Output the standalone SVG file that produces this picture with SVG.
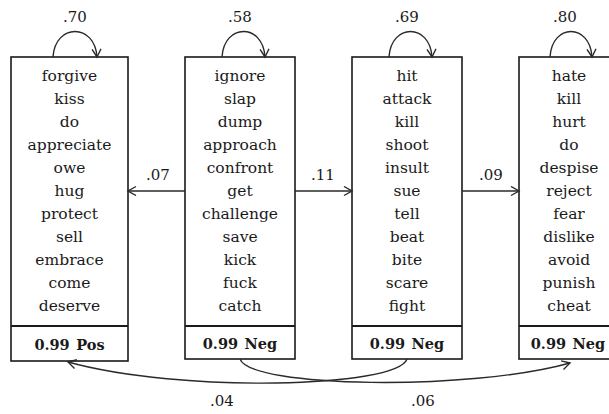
<svg xmlns="http://www.w3.org/2000/svg" width="609" height="414" viewBox="0 0 609 414">
<style>
.box{fill:#fff;stroke:#1a1a1a;stroke-width:1.6}
.div{stroke:#1a1a1a;stroke-width:2.2}
.w{font-family:"DejaVu Serif","Liberation Serif",serif;font-size:15.5px;fill:#1a1a1a;text-anchor:middle}
.b{font-family:"DejaVu Serif","Liberation Serif",serif;font-size:14.5px;font-weight:bold;fill:#1a1a1a;text-anchor:middle;word-spacing:1.5px}
.lab{font-family:"DejaVu Serif","Liberation Serif",serif;font-size:15px;fill:#1a1a1a;text-anchor:middle}
.c{fill:none;stroke:#2a2a2a;stroke-width:1.4;marker-end:url(#ah)}
</style>
<defs>
<marker id="ah" markerUnits="userSpaceOnUse" markerWidth="12" markerHeight="12" refX="9" refY="5" orient="auto">
<path d="M1,0.5 L9,5 L1,9.5" fill="none" stroke="#2a2a2a" stroke-width="1.4"/>
</marker>
</defs>
<g id="node-pos">
<rect class="box" x="11" y="57" width="117" height="304"/>
<line class="div" x1="11" y1="326" x2="128" y2="326"/>
<text class="w" x="69.5" y="81">forgive</text>
<text class="w" x="69.5" y="104">kiss</text>
<text class="w" x="69.5" y="127">do</text>
<text class="w" x="69.5" y="150">appreciate</text>
<text class="w" x="69.5" y="173">owe</text>
<text class="w" x="69.5" y="196">hug</text>
<text class="w" x="69.5" y="219">protect</text>
<text class="w" x="69.5" y="242">sell</text>
<text class="w" x="69.5" y="265">embrace</text>
<text class="w" x="69.5" y="288">come</text>
<text class="w" x="69.5" y="311">deserve</text>
<text class="b" x="69.5" y="350">0.99 Pos</text>
</g>
<g id="node-neg1">
<rect class="box" x="185" y="57" width="110" height="302"/>
<line class="div" x1="185" y1="326" x2="295" y2="326"/>
<text class="w" x="240" y="81">ignore</text>
<text class="w" x="240" y="104">slap</text>
<text class="w" x="240" y="127">dump</text>
<text class="w" x="240" y="150">approach</text>
<text class="w" x="240" y="173">confront</text>
<text class="w" x="240" y="196">get</text>
<text class="w" x="240" y="219">challenge</text>
<text class="w" x="240" y="242">save</text>
<text class="w" x="240" y="265">kick</text>
<text class="w" x="240" y="288">fuck</text>
<text class="w" x="240" y="311">catch</text>
<text class="b" x="240" y="349">0.99 Neg</text>
</g>
<g id="node-neg2">
<rect class="box" x="352" y="57" width="110" height="302"/>
<line class="div" x1="352" y1="326" x2="462" y2="326"/>
<text class="w" x="407" y="81">hit</text>
<text class="w" x="407" y="104">attack</text>
<text class="w" x="407" y="127">kill</text>
<text class="w" x="407" y="150">shoot</text>
<text class="w" x="407" y="173">insult</text>
<text class="w" x="407" y="196">sue</text>
<text class="w" x="407" y="219">tell</text>
<text class="w" x="407" y="242">beat</text>
<text class="w" x="407" y="265">bite</text>
<text class="w" x="407" y="288">scare</text>
<text class="w" x="407" y="311">fight</text>
<text class="b" x="407" y="349">0.99 Neg</text>
</g>
<g id="node-neg3">
<rect class="box" x="519" y="57" width="110" height="302"/>
<line class="div" x1="519" y1="326" x2="629" y2="326"/>
<text class="w" x="569" y="81">hate</text>
<text class="w" x="569" y="104">kill</text>
<text class="w" x="569" y="127">hurt</text>
<text class="w" x="569" y="150">do</text>
<text class="w" x="569" y="173">despise</text>
<text class="w" x="569" y="196">reject</text>
<text class="w" x="569" y="219">fear</text>
<text class="w" x="569" y="242">dislike</text>
<text class="w" x="569" y="265">avoid</text>
<text class="w" x="569" y="288">punish</text>
<text class="w" x="569" y="311">cheat</text>
<text class="b" x="568" y="349">0.99 Neg</text>
</g>
<g id="connectors">
<path class="c" d="M53,57 C55,23 95,23 97,57"/>
<path class="c" d="M222,57 C224,23 263,23 265,57"/>
<path class="c" d="M389,57 C391,23 430,23 432,57"/>
<path class="c" d="M550,57 C552,23 590,23 592,57"/>
<text class="lab" x="75" y="22">.70</text>
<text class="lab" x="240" y="22">.58</text>
<text class="lab" x="407" y="22">.69</text>
<text class="lab" x="565" y="22">.80</text>
<path class="c" d="M185,191 L128,191"/>
<path class="c" d="M295,191 L352,191"/>
<path class="c" d="M462,191 L519,191"/>
<text class="lab" x="158" y="180">.07</text>
<text class="lab" x="323" y="180">.11</text>
<text class="lab" x="491" y="180">.09</text>
<path class="c" d="M407,359 C397,388 180,393 68,362"/>
<path class="c" d="M240,359 C250,388 470,391 570,363"/>
<text class="lab" x="222" y="406">.04</text>
<text class="lab" x="423" y="406">.06</text>
</g>
</svg>
